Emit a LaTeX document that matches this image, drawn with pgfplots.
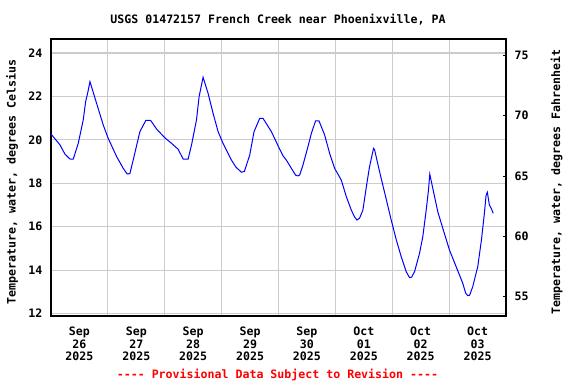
\documentclass[border=0pt]{standalone}
\usepackage{fontspec}
\setmainfont{DejaVu Sans Mono}
\setmonofont{DejaVu Sans Mono}
\usepackage{pgfplots}
\pgfplotsset{compat=1.18}
\definecolor{gridgray}{RGB}{204,204,204}
\newcommand{\lf}{\bfseries\fontsize{8.7}{9.6}\selectfont}
\pgfplotstableread{
d c
0.000 20.27
0.158 19.77
0.246 19.34
0.334 19.12
0.392 19.12
0.479 19.84
0.567 20.92
0.609 21.76
0.650 22.22
0.685 22.68
0.802 21.68
0.918 20.69
1.006 20.07
1.154 19.23
1.270 18.69
1.340 18.43
1.387 18.45
1.445 19.07
1.563 20.38
1.668 20.90
1.751 20.90
1.856 20.50
2.000 20.10
2.120 19.84
2.235 19.57
2.323 19.12
2.411 19.12
2.471 19.77
2.558 20.92
2.604 21.99
2.674 22.88
2.762 22.14
2.850 21.22
2.938 20.38
3.025 19.84
3.173 19.07
3.250 18.75
3.349 18.51
3.400 18.55
3.494 19.30
3.570 20.38
3.670 20.99
3.728 20.99
3.875 20.38
4.021 19.57
4.079 19.27
4.138 19.07
4.227 18.69
4.300 18.38
4.342 18.34
4.372 18.38
4.430 18.84
4.518 19.69
4.578 20.30
4.653 20.88
4.711 20.88
4.811 20.23
4.899 19.38
4.987 18.69
5.104 18.15
5.192 17.39
5.280 16.77
5.338 16.45
5.378 16.31
5.426 16.40
5.484 16.77
5.554 18.00
5.601 18.77
5.671 19.61
5.689 19.55
5.777 18.54
5.883 17.39
5.982 16.31
6.072 15.39
6.158 14.62
6.246 13.93
6.304 13.66
6.340 13.68
6.392 13.93
6.480 14.78
6.537 15.54
6.597 16.77
6.637 17.69
6.660 18.42
6.713 17.77
6.801 16.69
6.889 15.93
7.006 14.93
7.124 14.16
7.240 13.40
7.290 12.95
7.327 12.83
7.360 12.85
7.415 13.24
7.503 14.16
7.568 15.39
7.620 16.62
7.650 17.45
7.672 17.59
7.708 17.00
7.740 16.85
7.776 16.62
}\temps
\begin{document}
\begin{tikzpicture}
\useasboundingbox (0,0) rectangle (432pt,288pt);
\begin{axis}[
  at={(38.25pt,51pt)}, anchor=south west,
  scale only axis, width=341.25pt, height=207.75pt,
  xmin=0, xmax=8, ymin=11.894, ymax=24.644,
  axis line style={black, line width=1pt},
  xtick={1,2,3,4,5,6,7}, xticklabels={},
  ytick={12,14,16,18,20,22,24},
  xtick pos=bottom, ytick pos=left,
  major tick length=0pt,
  grid=major,
  major grid style={gridgray, line width=0.9pt},
  /pgf/number format/assume math mode=true,
  ticklabel style={font=\lf},
  yticklabel style={xshift=-3pt},
  xticklabel style={align=center, yshift=-4.5pt},
  extra x ticks={0.5,1.5,2.5,3.5,4.5,5.5,6.5,7.5},
  extra x tick labels={{Sep\\26\\2025},{Sep\\27\\2025},{Sep\\28\\2025},{Sep\\29\\2025},{Sep\\30\\2025},{Oct\\01\\2025},{Oct\\02\\2025},{Oct\\03\\2025}},
  extra x tick style={grid=none, major tick length=0pt},
]
\addplot[blue, line width=0.75pt, mark=none] table[x=d, y=c] {\temps};
\end{axis}
\begin{axis}[
  at={(38.25pt,51pt)}, anchor=south west,
  scale only axis, width=341.25pt, height=207.75pt,
  xmin=0, xmax=8, ymin=53.409, ymax=76.359,
  axis x line=none, axis y line*=right,
  axis line style={black, line width=1pt},
  ytick={55,60,65,70,75},
  tick align=inside, major tick length=2.5pt,
  tick style={black, line width=0.8pt},
  /pgf/number format/assume math mode=true,
  ticklabel style={font=\lf},
  yticklabel style={xshift=3pt},
]
\end{axis}
\node[font=\lf] at (208.5pt,273pt) {USGS 01472157 French Creek near Phoenixville, PA};
\node[font=\lf, text=red] at (208.1pt,6.75pt) {-{}-{}-{}- Provisional Data Subject to Revision -{}-{}-{}-};
\node[font=\lf, rotate=90] at (9pt,151.5pt) {Temperature, water, degrees Celsius};
\node[font=\lf, rotate=90] at (417.5pt,151.5pt) {Temperature, water, degrees Fahrenheit};
\end{tikzpicture}
\end{document}
